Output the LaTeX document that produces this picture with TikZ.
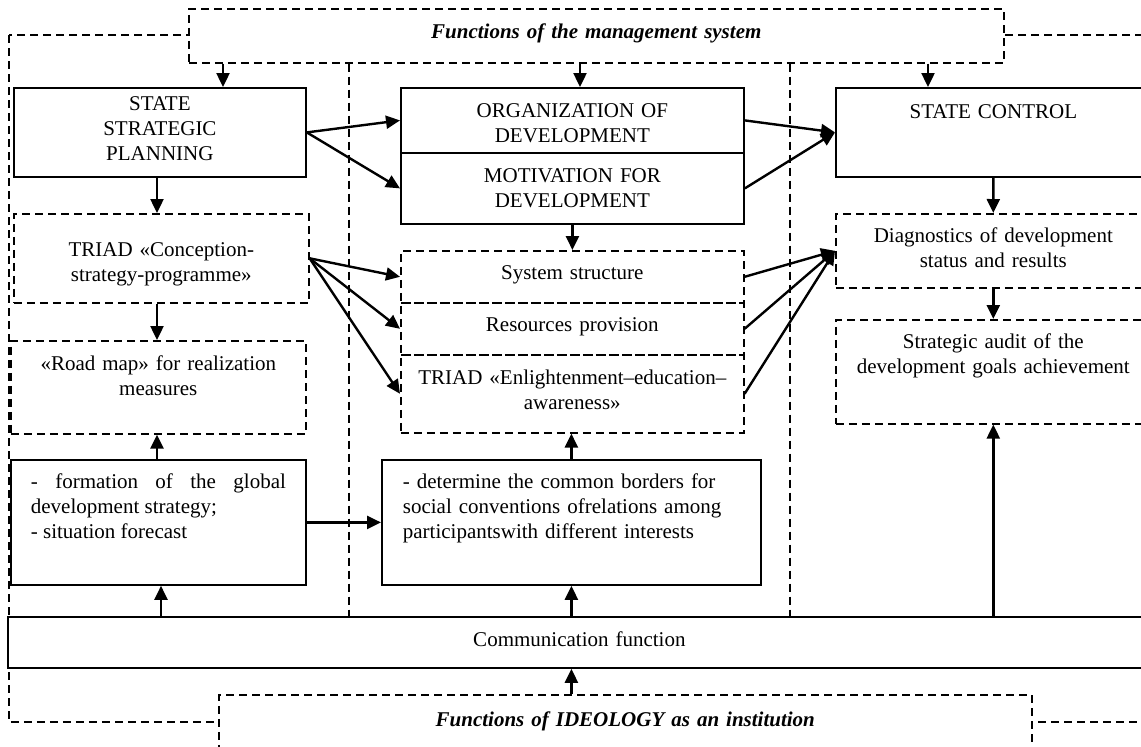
\documentclass[tikz,border=0pt]{standalone}
\usepackage{fontspec}
\setmainfont{Liberation Serif}
\usetikzlibrary{arrows.meta, positioning}
\hyphenpenalty=10000

\begin{document}
\begin{tikzpicture}[
    x=0.5pt, y=-0.5pt,
    every node/.style={inner sep=0pt, font=\fontsize{10.5}{12.5}\selectfont},
    sz/.style n args={3}{text width=#1, text height=#2, text depth=#3},
    solidbox/.style={draw, line width=0.9pt, anchor=north west, align=center},
    dashbox/.style={solidbox, line width=0.8pt, dash pattern=on 4pt off 2.5pt},
    frame/.style={line width=0.8pt, dash pattern=on 4pt off 2.5pt},
    arr/.style={->, line width=1.2pt},
    >={Triangle[length=7pt, width=6.5pt]}
]
\useasboundingbox (0,0) rectangle (1141,746);
\clip (0,0) rectangle (1141,746);

% Outer dashed frame and column guides
\draw[frame] (9,35) rectangle (1150,722);
\coordinate (colL) at (349,0);
\coordinate (colR) at (790,0);
\coordinate (ax1) at (223,0);
\coordinate (ax2) at (580,0);
\coordinate (ax3) at (928,0);
\coordinate (ax4) at (157,0);
\coordinate (ax5) at (161,0);

% Management system functions
\node[dashbox, fill=white, font=\fontsize{10.5}{12.5}\selectfont\bfseries\itshape,
      sz={407.5pt}{15pt}{12pt}] (top) at (188,8) {Functions of the management system};

\node[solidbox, sz={146pt}{11.5pt}{33pt}] (plan) at (13,87) {STATE\\STRATEGIC\\PLANNING};
\node[solidbox, sz={171.5pt}{15pt}{17.5pt}] (org) at (400,87) {ORGANIZATION OF\\DEVELOPMENT};
\node[solidbox, sz={171.5pt}{15pt}{20.5pt}] (mot) at (400,152) {MOTIVATION FOR\\DEVELOPMENT};
\node[solidbox, sz={157.5pt}{15.5pt}{29pt}] (ctl) at (835,87) {STATE CONTROL};

% Second level
\node[dashbox, sz={147.5pt}{21.5pt}{23pt}] (triadL) at (13,213) {TRIAD «Conception-\\strategy-programme»};
\node[dashbox, sz={147.5pt}{15pt}{31.5pt}] (road) at (10,340) {«Road map» for realization\\measures};
\node[dashbox, sz={171.5pt}{14.5pt}{11.5pt}] (sys) at (400,250) {System structure};
\node[dashbox, sz={171.5pt}{14.5pt}{11.5pt}] (res) at (400,302) {Resources provision};
\node[dashbox, sz={171.5pt}{15pt}{24pt}] (enl) at (400,354) {TRIAD «Enlightenment–education–\\awareness»};
\node[dashbox, sz={157.5pt}{14.5pt}{22.5pt}] (diag) at (835,213) {Diagnostics of development\\status and results};
\node[dashbox, sz={157.5pt}{14.5pt}{37.5pt}] (audit) at (835,319) {Strategic audit of the\\development goals achievement};

% Lower boxes
\node[solidbox, align=justify, inner xsep=10pt, sz={127.5pt}{14.5pt}{48pt}] (form) at (10,459)
    {- formation of the global development strategy;\\- situation forecast};
\node[solidbox, align=left, inner xsep=10.5pt, sz={168.5pt}{14.5pt}{48pt}] (mid) at (381,459)
    {- determine the common borders for\\social conventions ofrelations among\\participantswith different interests};
\node[solidbox, fill=white, sz={571.5pt}{15pt}{10.5pt}] (comm) at (7,616) {Communication function};
\node[dashbox, fill=white, font=\fontsize{10.5}{12.5}\selectfont\bfseries\itshape,
      sz={406.5pt}{16pt}{17pt}] (ideo) at (218,694) {Functions of IDEOLOGY as an institution};

% Column guides
\draw[frame] (top.south -| colL) -- (comm.north -| colL);
\draw[frame] (top.south -| colR) -- (comm.north -| colR);

% Connectors
\draw[arr] (top.south -| ax1) -- (plan.north -| ax1);
\draw[arr] (top.south -| ax2) -- (org.north -| ax2);
\draw[arr] (top.south -| ax3) -- (ctl.north -| ax3);
\draw[arr] (plan.south -| ax4) -- (triadL.north -| ax4);
\draw[arr] (triadL.south -| ax4) -- (road.north -| ax4);
\draw[arr] (form.north -| ax4) -- (road.south -| ax4);
\draw[arr] (comm.north -| ax5) -- (form.south -| ax5);
\draw[arr] (plan.east) -- (org.west);
\draw[arr] (plan.east) -- (mot.west);
\draw[arr] (org.east) -- (ctl.west);
\draw[arr] (mot.east) -- (ctl.west);
\draw[arr] (mot.south) -- (mot.south |- sys.north);
\foreach \n in {sys,res,enl}
    \draw[arr] (triadL.east) -- (\n.west);
\foreach \n in {sys,res,enl}
    \draw[arr] (\n.east) -- (diag.west);
\draw[arr] (ctl.south) -- (diag.north);
\draw[arr] (diag.south) -- (audit.north);
\draw[arr] (comm.north -| audit.south) -- (audit.south);
\draw[arr] (form.east) -- (mid.west);
\draw[arr] (comm.north -| mid.south) -- (mid.south);
\draw[arr] (mid.north) -- (mid.north |- enl.south);
\draw[arr] (ideo.north -| mid.south) -- (comm.south -| mid.south);

\end{tikzpicture}
\end{document}
